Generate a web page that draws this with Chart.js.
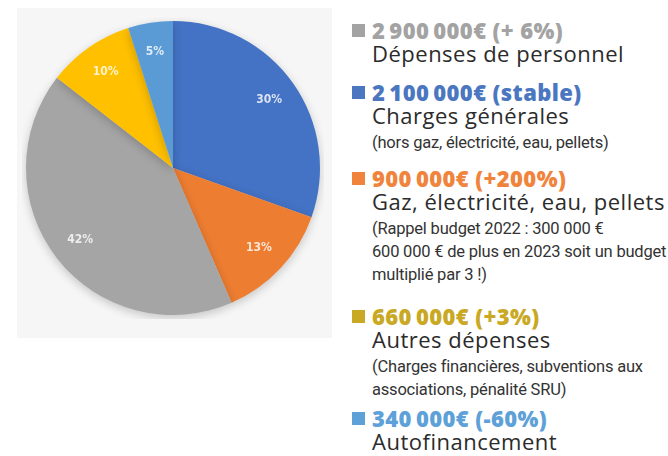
<!DOCTYPE html>
<html>
<head>
<meta charset="utf-8">
<script src="https://cdn.jsdelivr.net/npm/chart.js@4/dist/chart.umd.min.js"></script>
<style>
  html, body { margin: 0; padding: 0; background: #fff; }
  body { width: 668px; height: 456px; position: relative; overflow: hidden; }
  #bg { position: absolute; left: 17px; top: 8px; width: 315px; height: 330px; background: #f6f6f6; }
  #wrap { position: absolute; left: 22px; top: 17px; width: 302px; height: 302px; }
  #legend { position: absolute; left: 350px; top: 19px; width: 318px; font-family: "Open Sans", sans-serif; }
  .item { position: relative; padding-left: 22px; white-space: nowrap; }
  .item:nth-child(1) { margin-bottom: 17px; }
  .item:nth-child(2) { margin-bottom: 13px; }
  .item:nth-child(3) { margin-bottom: 19px; }
  .item:nth-child(4) { margin-bottom: 6px; }
  .sq { position: absolute; left: 2px; top: 5px; width: 13px; height: 13px; }
  .amt { font-weight: 800; font-size: 22px; line-height: 23px; letter-spacing: 0.4px; }
  .name { color: #2b2b2b; font-size: 22px; line-height: 22px; letter-spacing: 0.5px; }
  .note { color: #333; font-family: "Roboto", sans-serif; font-size: 16.5px; line-height: 23px; letter-spacing: -0.2px; }
  .name + .note { margin-top: 5px; }
</style>
</head>
<body>
<div id="bg"></div>
<div id="wrap"><canvas id="pie"></canvas></div>
<div id="legend"></div>
<script>
// legend order
const categories = ["Dépenses de personnel", "Charges générales", "Gaz, électricité, eau, pellets", "Autres dépenses", "Autofinancement"];
const amounts = [2900000, 2100000, 900000, 660000, 340000];
const amountLabels = ["2\u2009900\u2009000€", "2\u2009100\u2009000€", "900\u2009000€", "660\u2009000€", "340\u2009000€"];
const changes = ["(+ 6%)", "(stable)", "(+200%)", "(+3%)", "(-60%)"];
const notes = [
  [],
  ["(hors gaz, électricité, eau, pellets)"],
  ["(Rappel budget 2022 : 300 000 €", "600 000 € de plus en 2023 soit un budget", "multiplié par 3 !)"],
  ["(Charges financières, subventions aux", "associations, pénalité SRU)"],
  []
];
const sliceColors = ["#a5a5a5", "#4472c4", "#ed7d31", "#ffc000", "#5b9bd5"];
const textColors = ["#a3a3a3", "#4a77c0", "#f0843c", "#c9a824", "#5ea1d8"];
// order of slices clockwise from 12 o'clock
const pieOrder = [1, 2, 0, 3, 4];

const legend = document.getElementById('legend');
categories.forEach((c, i) => {
  const d = document.createElement('div');
  d.className = 'item';
  d.innerHTML = `<div class="sq" style="background:${textColors[i]}"></div>` +
    `<div class="amt" style="color:${textColors[i]}">${amountLabels[i]} ${changes[i]}</div>` +
    `<div class="name">${c}</div>` +
    notes[i].map(n => `<div class="note">${n}</div>`).join('');
  legend.appendChild(d);
});

const total = amounts.reduce((a, b) => a + b, 0);

const pctLabels = {
  id: 'pctLabels',
  afterDatasetsDraw(chart) {
    const ctx = chart.ctx;
    const meta = chart.getDatasetMeta(0);
    ctx.save();
    ctx.font = 'bold 12px "DejaVu Sans Condensed", sans-serif';
    ctx.fillStyle = 'rgba(255,255,255,0.8)';
    ctx.textAlign = 'center';
    ctx.textBaseline = 'middle';
    meta.data.forEach((arc, i) => {
      const mid = (arc.startAngle + arc.endAngle) / 2;
      const r = arc.outerRadius * 0.8;
      const v = chart.data.datasets[0].data[i];
      ctx.fillText(Math.round(v / total * 100) + '%', arc.x + Math.cos(mid) * r, arc.y + Math.sin(mid) * r);
    });
    ctx.restore();
  }
};

const pieShadow = {
  id: 'pieShadow',
  beforeDatasetsDraw(chart) {
    const ctx = chart.ctx;
    ctx.save();
    ctx.shadowColor = 'rgba(0,0,0,0.2)';
    ctx.shadowBlur = 10;
    ctx.shadowOffsetY = 3;
  },
  afterDatasetsDraw(chart) {
    chart.ctx.restore();
  }
};

new Chart(document.getElementById('pie'), {
  type: 'pie',
  data: {
    labels: pieOrder.map(i => categories[i]),
    datasets: [{
      data: pieOrder.map(i => amounts[i]),
      backgroundColor: pieOrder.map(i => sliceColors[i]),
      borderWidth: 0
    }]
  },
  options: {
    responsive: true,
    maintainAspectRatio: false,
    animation: false,
    layout: { padding: 4 },
    plugins: {
      legend: { display: false },
      tooltip: { enabled: false }
    }
  },
  plugins: [pieShadow, pctLabels]
});
</script>
</body>
</html>
